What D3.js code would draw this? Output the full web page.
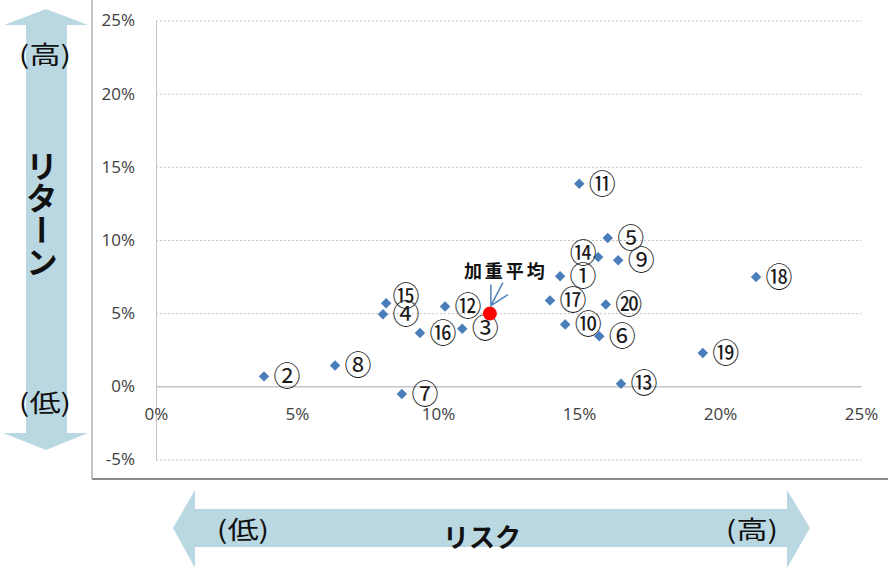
<!DOCTYPE html>
<html>
  <head>
    <meta charset="utf-8">
    <title>リスク・リターン</title>
    <script type="text/javascript" src="https://cdn.jsdelivr.net/npm/d3@7"></script>
    <style type="text/css">
      body { margin: 0; background: #fff; }
      svg { display: block; }
    </style>
  </head>
  <body>
    <script type="text/javascript">
      var w = 888;
      var h = 568;

      // fund numbers, risk (%), return (%)
      var ids = [1, 2, 3, 4, 5, 6, 7, 8, 9, 10, 11, 12, 13, 14, 15, 16, 17, 18, 19, 20];
      var risk = [14.33, 3.83, 10.86, 8.05, 16.02, 15.72, 8.72, 6.35, 16.39, 14.51,
                  15.01, 10.25, 16.49, 15.68, 8.16, 9.36, 13.97, 21.28, 19.39, 15.95];
      var ret = [7.53, 0.68, 3.94, 4.92, 10.13, 3.42, -0.52, 1.43, 8.61, 4.23,
                 13.84, 5.46, 0.18, 8.83, 5.67, 3.64, 5.87, 7.47, 2.28, 5.60];
      var avgLabel = '加重平均';
      var avgRisk = 11.84;
      var avgRet = 4.97;
      var xTicks = [0, 5, 10, 15, 20, 25];
      var yTicks = [-5, 0, 5, 10, 15, 20, 25];

      var circled = '①②③④⑤⑥⑦⑧⑨⑩⑪⑫⑬⑭⑮⑯⑰⑱⑲⑳';
      // a couple of labels sit off the usual spot
      var labelNudge = {14: [-15, -4], 15: [20, -7]};

      var points = ids.map(function(id, i) {
        return {id: id, risk: risk[i], ret: ret[i]};
      });

      var x = d3.scaleLinear().domain([0, 25]).range([156, 861]);
      var y = d3.scaleLinear().domain([-5, 25]).range([459.5, 20.5]);

      var svg = d3.select('body')
                  .append('svg')
                  .attr('width', w)
                  .attr('height', h);

      var tickFont = '"Open Sans", "Noto Sans", sans-serif';
      var jpFont = '"Noto Sans CJK JP", sans-serif';

      // chart frame
      svg.append('line')
        .attr('x1', 92).attr('x2', 92).attr('y1', 0).attr('y2', 479)
        .attr('stroke', '#b0b0b0').attr('stroke-width', 1.5);
      svg.append('line')
        .attr('x1', 92).attr('x2', 888).attr('y1', 479).attr('y2', 479)
        .attr('stroke', '#8c8c8c').attr('stroke-width', 2);

      // gridlines
      var grid = svg.append('g')
        .attr('transform', 'translate(' + x(0) + ',0)')
        .call(d3.axisLeft(y).tickValues(yTicks.filter(function(d) {return d !== 0;}))
          .tickSize(-(x(25) - x(0))).tickFormat(''));
      grid.select('.domain').remove();
      grid.selectAll('line')
        .attr('stroke', '#c4c4c4')
        .attr('stroke-dasharray', '2,2');

      // y axis
      var yAxis = svg.append('g')
        .attr('transform', 'translate(' + x(0) + ',0)')
        .call(d3.axisLeft(y).tickValues(yTicks).tickSize(0).tickPadding(21)
          .tickFormat(function(d) {return d + '%';}));
      yAxis.select('.domain').attr('stroke', '#c4c4c4');
      yAxis.selectAll('text')
        .attr('font-family', tickFont)
        .attr('font-size', '17px')
        .attr('fill', '#404040');

      // x axis on the zero line
      var xAxis = svg.append('g')
        .attr('transform', 'translate(0,' + y(0) + ')')
        .call(d3.axisBottom(x).tickValues(xTicks).tickSize(0).tickPadding(22)
          .tickFormat(function(d) {return d + '%';}));
      xAxis.select('.domain').attr('stroke', '#c4c4c4').attr('stroke-width', 1.5);
      xAxis.selectAll('text')
        .attr('font-family', tickFont)
        .attr('font-size', '17px')
        .attr('fill', '#404040');

      // diamonds
      svg.selectAll('path.pt')
        .data(points)
        .enter()
        .append('path')
        .attr('class', 'pt')
        .attr('d', d3.symbol().type(d3.symbolDiamond2).size(70))
        .attr('transform', function(d) {return 'translate(' + x(d.risk) + ',' + y(d.ret) + ')';})
        .attr('fill', '#4a7ebb');

      svg.selectAll('text.lbl')
        .data(points)
        .enter()
        .append('text')
        .attr('class', 'lbl')
        .text(function(d) {return circled[d.id - 1];})
        .attr('x', function(d) {return x(d.risk) + (labelNudge[d.id] ? labelNudge[d.id][0] : 23);})
        .attr('y', function(d) {return y(d.ret) + (labelNudge[d.id] ? labelNudge[d.id][1] : 0);})
        .attr('dy', '0.36em')
        .attr('text-anchor', 'middle')
        .attr('font-family', jpFont)
        .attr('font-size', '27px')
        .attr('fill', '#1a1a1a');

      // weighted average
      var ax = x(avgRisk), ay = y(avgRet);
      svg.append('circle')
        .attr('cx', ax).attr('cy', ay).attr('r', 7)
        .attr('fill', '#ff0000');
      svg.append('path')
        .attr('d', 'M' + (ax + 13) + ',' + (ay - 31) + 'L' + (ax + 1) + ',' + (ay - 8) +
                   'M' + (ax + 1) + ',' + (ay - 29) + 'L' + (ax + 1) + ',' + (ay - 8) +
                   'L' + (ax + 18) + ',' + (ay - 19))
        .attr('fill', 'none')
        .attr('stroke', '#4f81bd')
        .attr('stroke-width', 1.5);
      svg.append('text')
        .text(avgLabel)
        .attr('x', ax + 16).attr('y', ay - 42)
        .attr('dy', '0.36em')
        .attr('text-anchor', 'middle')
        .attr('font-family', jpFont)
        .attr('font-weight', 'bold')
        .attr('font-size', '18px')
        .attr('letter-spacing', '3px')
        .attr('fill', '#111');

      // big arrows for the axis titles
      var arrowFill = '#b9d8e2';
      svg.append('path')
        .attr('d', 'M46,9 L88,25 L67,25 L67,433 L88,433 L46,450 L3,433 L26,433 L26,25 L4,25 Z')
        .attr('fill', arrowFill);
      svg.append('path')
        .attr('d', 'M173,528 L195,490 L195,509 L787,509 L787,490 L810,528 L787,568 L787,547 L195,547 L195,568 Z')
        .attr('fill', arrowFill);

      // the original text is drawn a little wide
      function arrowText(str, cx, cy, size, bold, stretch) {
        return svg.append('text')
          .text(str)
          .attr('transform', 'translate(' + cx + ',' + cy + ') scale(' + (stretch || 1) + ',1)')
          .attr('dy', '0.36em')
          .attr('text-anchor', 'middle')
          .attr('font-family', jpFont)
          .attr('font-weight', bold ? 'bold' : 'normal')
          .attr('font-size', size + 'px')
          .attr('fill', '#111');
      }
      arrowText('(高)', 45, 55, 25, false, 1.25);
      arrowText('(低)', 45, 403, 25, false, 1.25);
      arrowText('(低)', 243, 530, 25, false, 1.25);
      arrowText('(高)', 752, 530, 25, false, 1.25);
      arrowText('リスク', 482, 538, 26, true);

      svg.append('text')
        .text('リターン')
        .attr('x', 42).attr('y', 150)
        .style('writing-mode', 'vertical-rl')
        .attr('font-family', jpFont)
        .attr('font-weight', 'bold')
        .attr('font-size', '32px')
        .attr('fill', '#111');
    </script>
  </body>
</html>
